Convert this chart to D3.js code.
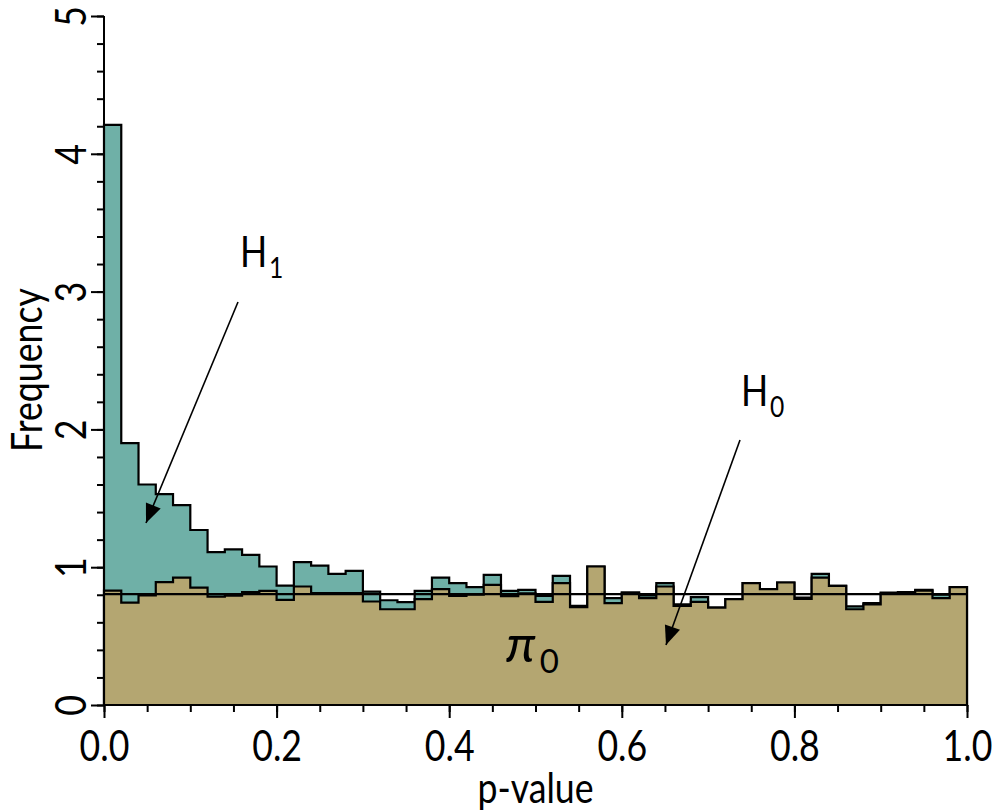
<!DOCTYPE html>
<html>
<head>
<meta charset="utf-8">
<script src="https://cdn.jsdelivr.net/npm/d3@7"></script>
<style>
  html, body { margin: 0; padding: 0; background: #ffffff; }
  svg { display: block; }
  text { font-family: Lato, "Liberation Sans", sans-serif; fill: #000; }
</style>
</head>
<body>
<svg id="chart" width="993" height="812"></svg>
<script>
// ---------- data ----------
const binWidth = 0.02;
// total p-value histogram (density), 50 bins of width 0.02
const totalFreq = [4.21, 1.90, 1.60, 1.53, 1.45, 1.27, 1.11, 1.13, 1.09, 1.005,
  0.867, 1.037, 1.012, 0.952, 0.974, 0.823, 0.76, 0.746, 0.828, 0.925,
  0.884, 0.855, 0.945, 0.828, 0.836, 0.792, 0.937, 0.72, 1.005, 0.775,
  0.816, 0.795, 0.884, 0.73, 0.783, 0.707, 0.768, 0.884, 0.841, 0.889,
  0.78, 0.952, 0.865, 0.715, 0.74, 0.816, 0.82, 0.835, 0.80, 0.855];
// null (H0) p-value histogram
const nullFreq = [0.83, 0.743, 0.795, 0.891, 0.925, 0.852, 0.787, 0.794, 0.819, 0.828,
  0.763, 0.86, 0.812, 0.812, 0.812, 0.751, 0.695, 0.695, 0.768, 0.841,
  0.792, 0.80, 0.872, 0.79, 0.81, 0.748, 0.884, 0.71, 1.005, 0.739,
  0.816, 0.775, 0.86, 0.72, 0.748, 0.707, 0.768, 0.884, 0.841, 0.889,
  0.77, 0.925, 0.865, 0.695, 0.73, 0.81, 0.815, 0.83, 0.775, 0.855];
const pi0 = 0.805;
const xTickLabels = ["0.0", "0.2", "0.4", "0.6", "0.8", "1.0"];
const yTickLabels = ["0", "1", "2", "3", "4", "5"];

// ---------- layout ----------
const svg = d3.select("#chart");
const x = d3.scaleLinear().domain([0, 1]).range([104, 967]);
const y = d3.scaleLinear().domain([0, 5]).range([705, 16]);
const NARROW = 0.85;

const teal = "#6fb0a7";
const tan = "#b4a671";

function stepPoints(vals) {
  const pts = [[0, 0]];
  vals.forEach((v, i) => {
    pts.push([i * binWidth, v]);
    pts.push([(i + 1) * binWidth, v]);
  });
  pts.push([vals.length * binWidth, 0]);
  return pts;
}
const line = d3.line().x(d => x(d[0])).y(d => y(d[1]));

svg.append("path")
  .attr("d", line(stepPoints(totalFreq)) + "Z")
  .attr("fill", teal).attr("stroke", "#000").attr("stroke-width", 2.2)
  .attr("stroke-linejoin", "miter");
svg.append("path")
  .attr("d", line(stepPoints(nullFreq)) + "Z")
  .attr("fill", tan).attr("stroke", "#000").attr("stroke-width", 2.2)
  .attr("stroke-linejoin", "miter");

// pi0 line
svg.append("line")
  .attr("x1", x(0)).attr("x2", x(1))
  .attr("y1", y(pi0)).attr("y2", y(pi0))
  .attr("stroke", "#000").attr("stroke-width", 2.2);

// ---------- axes ----------
const xMajor = d3.range(0, 6).map(i => i * 0.2);
const xMinor = d3.range(0, 21).map(i => i * 0.05);
const yMajor = d3.range(0, 6);
const yMinor = d3.range(0, 26).map(i => i * 0.2);

const xAxisMinor = d3.axisBottom(x).tickValues(xMinor).tickSize(7).tickFormat("");
const xAxisMajor = d3.axisBottom(x).tickValues(xMajor).tickSize(13).tickFormat((d, i) => xTickLabels[i]);
const yAxisMinor = d3.axisLeft(y).tickValues(yMinor).tickSize(7).tickFormat("");
const yAxisMajor = d3.axisLeft(y).tickValues(yMajor).tickSize(13).tickFormat((d, i) => yTickLabels[i]);

function styleAxis(g) {
  g.select(".domain").attr("stroke", "#000").attr("stroke-width", 2);
  g.selectAll(".tick line").attr("stroke", "#000").attr("stroke-width", 2);
}

const gxm = svg.append("g").attr("transform", `translate(0,${y(0)})`).call(xAxisMinor).call(styleAxis);
gxm.select(".domain").remove();
const gx = svg.append("g").attr("transform", `translate(0,${y(0)})`).call(xAxisMajor).call(styleAxis);
gx.select(".domain").attr("d", `M${x(0)},0H${x(1)}`);
gx.selectAll(".tick text")
  .attr("font-size", 42).attr("font-family", null)
  .attr("dy", null).attr("y", null)
  .attr("text-anchor", "middle")
  .attr("transform", `translate(0,56) scale(${NARROW},1)`);

const gym = svg.append("g").attr("transform", `translate(${x(0)},0)`).call(yAxisMinor).call(styleAxis);
gym.select(".domain").remove();
const gy = svg.append("g").attr("transform", `translate(${x(0)},0)`).call(yAxisMajor).call(styleAxis);
gy.select(".domain").attr("d", `M0,${y(0)}V${y(5)}`);
gy.selectAll(".tick text")
  .attr("font-size", 42).attr("font-family", null)
  .attr("x", null).attr("dy", null)
  .attr("text-anchor", "middle")
  .attr("transform", `translate(-18,0) rotate(-90) scale(${NARROW},1)`);

// axis titles
svg.append("text")
  .attr("transform", `translate(${(x(0) + x(1)) / 2},803) scale(${NARROW},1)`)
  .attr("text-anchor", "middle").attr("font-size", 42)
  .text("p-value");
svg.append("text")
  .attr("transform", `translate(42,370) rotate(-90) scale(${NARROW},1)`)
  .attr("text-anchor", "middle").attr("font-size", 42)
  .text("Frequency");

// ---------- annotations ----------
function label(xPos, yPos, main, sub) {
  const t = svg.append("text")
    .attr("transform", `translate(${xPos},${yPos}) scale(${NARROW},1)`)
    .attr("font-size", 42);
  t.append("tspan").text(main);
  t.append("tspan").attr("font-size", 29).attr("dx", 2).attr("dy", 11).text(sub);
}
label(240, 267, "H", "1");
label(741, 406, "H", "0");

function arrow(x1, y1, x2, y2) {
  svg.append("line")
    .attr("x1", x1).attr("y1", y1).attr("x2", x2).attr("y2", y2)
    .attr("stroke", "#000").attr("stroke-width", 1.6);
  const ang = Math.atan2(y2 - y1, x2 - x1);
  const L = 19, W = 8;
  const bx = x2 - L * Math.cos(ang), by = y2 - L * Math.sin(ang);
  const px = -Math.sin(ang) * W, py = Math.cos(ang) * W;
  svg.append("path")
    .attr("d", `M${x2},${y2}L${bx + px},${by + py}L${bx - px},${by - py}Z`)
    .attr("fill", "#000");
}
arrow(238, 302, 146, 523);
arrow(740, 440, 666, 645);

const pt = svg.append("text").attr("x", 506).attr("y", 662)
  .attr("font-family", "'Liberation Serif', 'DejaVu Serif', serif")
  .attr("font-style", "italic").attr("font-size", 52);
pt.append("tspan").text("π");
pt.append("tspan").attr("font-style", "normal").attr("font-size", 33).attr("dx", 4).attr("dy", 11).text("0");
</script>
</body>
</html>
